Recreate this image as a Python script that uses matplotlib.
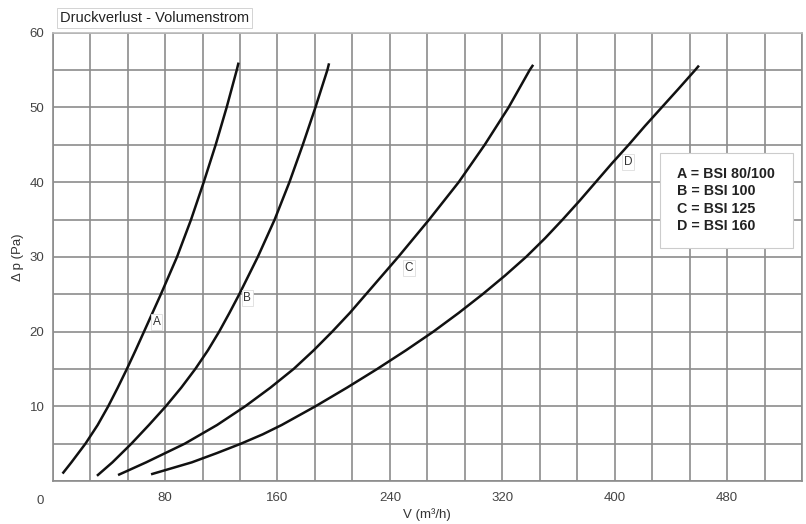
import numpy as np
import matplotlib.pyplot as plt
from matplotlib.patches import Rectangle

# curves: volume flow (m3/h) vs pressure loss (Pa)
a_x = [7, 13.3, 23.3, 32, 39.5, 46.3, 52.8, 59, 65, 77, 88.5, 98.5, 107.5,
       116, 123.8, 131, 132.3]
a_y = [1, 2.5, 5, 7.5, 10, 12.5, 15, 17.5, 20, 25, 30, 35, 40,
       45, 50, 55, 56]
b_x = [31.5, 42.5, 56, 68.5, 80.5, 91.5, 101.5, 110.5, 118.5, 125.8, 132.8,
       146, 158, 168.5, 178, 187, 195.5, 196.7]
b_y = [0.7, 2.5, 5, 7.5, 10, 12.5, 15, 17.5, 20, 22.5, 25,
       30, 35, 40, 45, 50, 55, 55.9]
c_x = [46.5, 66.5, 94, 117, 137, 155, 171.5, 185.8, 199, 211.5, 223, 234.5,
       246, 268, 289, 307.5, 324.5, 339.5, 342]
c_y = [0.8, 2.5, 5, 7.5, 10, 12.5, 15, 17.5, 20, 22.5, 25, 27.5,
       30, 35, 40, 45, 50, 55, 55.7]
d_x = [70, 99, 117, 134, 149.5, 163, 187, 209.5, 231, 251.5, 271, 289, 306,
       322, 337, 350.5, 363, 375, 386.5, 398, 410, 421.5, 433.5, 445.5,
       457.3, 460]
d_y = [0.9, 2.5, 3.75, 5, 6.25, 7.5, 10, 12.5, 15, 17.5, 20, 22.5, 25,
       27.5, 30, 32.5, 35, 37.5, 40, 42.5, 45, 47.5, 50, 52.5, 55, 55.6]

curve_names = ['A', 'B', 'C', 'D']
label_pos = [(74, 21.3), (138.6, 24.5), (253.5, 28.5), (409.5, 42.7)]
legend_lines = ['A = BSI 80/100', 'B = BSI 100', 'C = BSI 125', 'D = BSI 160']

x_ticks = [80, 160, 240, 320, 400, 480]
y_ticks = [10, 20, 30, 40, 50, 60]

plt.rcParams['font.family'] = ['Liberation Sans', 'DejaVu Sans']

fig = plt.figure(figsize=(8.06, 5.24), dpi=100)
ax = fig.add_axes([0.0654, 0.082, 0.9296, 0.8556])

grid_col = '#8c8c8c'
for gx in np.arange(0, 534, 80 / 3):
    ax.axvline(gx, color=grid_col, lw=1.2, zorder=1)
for gy in range(0, 61, 5):
    ax.axhline(gy, color=grid_col, lw=1.2, zorder=1)

for xs, ys in [(a_x, a_y), (b_x, b_y), (c_x, c_y), (d_x, d_y)]:
    ax.plot(xs, ys, color='#111111', lw=1.8, zorder=3,
            solid_capstyle='butt', solid_joinstyle='round')

for name, (lx, ly) in zip(curve_names, label_pos):
    ax.text(lx, ly, name, fontsize=8.5, color='#333333', ha='center',
            va='center', zorder=4,
            bbox=dict(boxstyle='square,pad=0.15', fc='white',
                      ec='#dddddd', lw=0.6))

# legend box
ax.add_patch(Rectangle((0.8105, 0.5197), 0.1775, 0.2119,
                       transform=ax.transAxes, facecolor='white',
                       edgecolor='#cccccc', lw=0.8, zorder=4))
for i, line in enumerate(legend_lines):
    ax.text(0.833, 0.6848 - i * 0.0387, line, transform=ax.transAxes,
            fontsize=10.3, fontweight='bold', color='#222222',
            ha='left', va='center', zorder=5)

ax.set_xlim(0, 20 * 80 / 3)
ax.set_ylim(0, 60)
ax.set_xticks(x_ticks)
ax.set_yticks(y_ticks)
ax.tick_params(length=0, labelsize=9.5, colors='#444444')
ax.tick_params(axis='x', pad=8)
ax.tick_params(axis='y', pad=6)
for s in ax.spines.values():
    s.set_color(grid_col)
    s.set_linewidth(1.2)
ax.spines['top'].set_color('#bbbbbb')

ax.annotate('0', xy=(0, 0), xycoords=('data', 'axes fraction'),
            xytext=(-9, -10), textcoords='offset points',
            fontsize=9.5, color='#444444', ha='center', va='top')

ax.set_xlabel('V (m³/h)', fontsize=9.5, color='#333333', labelpad=3)
ax.set_ylabel('Δ p (Pa)', fontsize=9.5, color='#333333', labelpad=4)

fig.text(0.0745, 0.9656, 'Druckverlust - Volumenstrom', fontsize=10.5,
         color='#222222', ha='left', va='center',
         bbox=dict(boxstyle='square,pad=0.2', fc='white', ec='#cccccc',
                   lw=0.6))

fig.savefig('out.png', dpi=100)
